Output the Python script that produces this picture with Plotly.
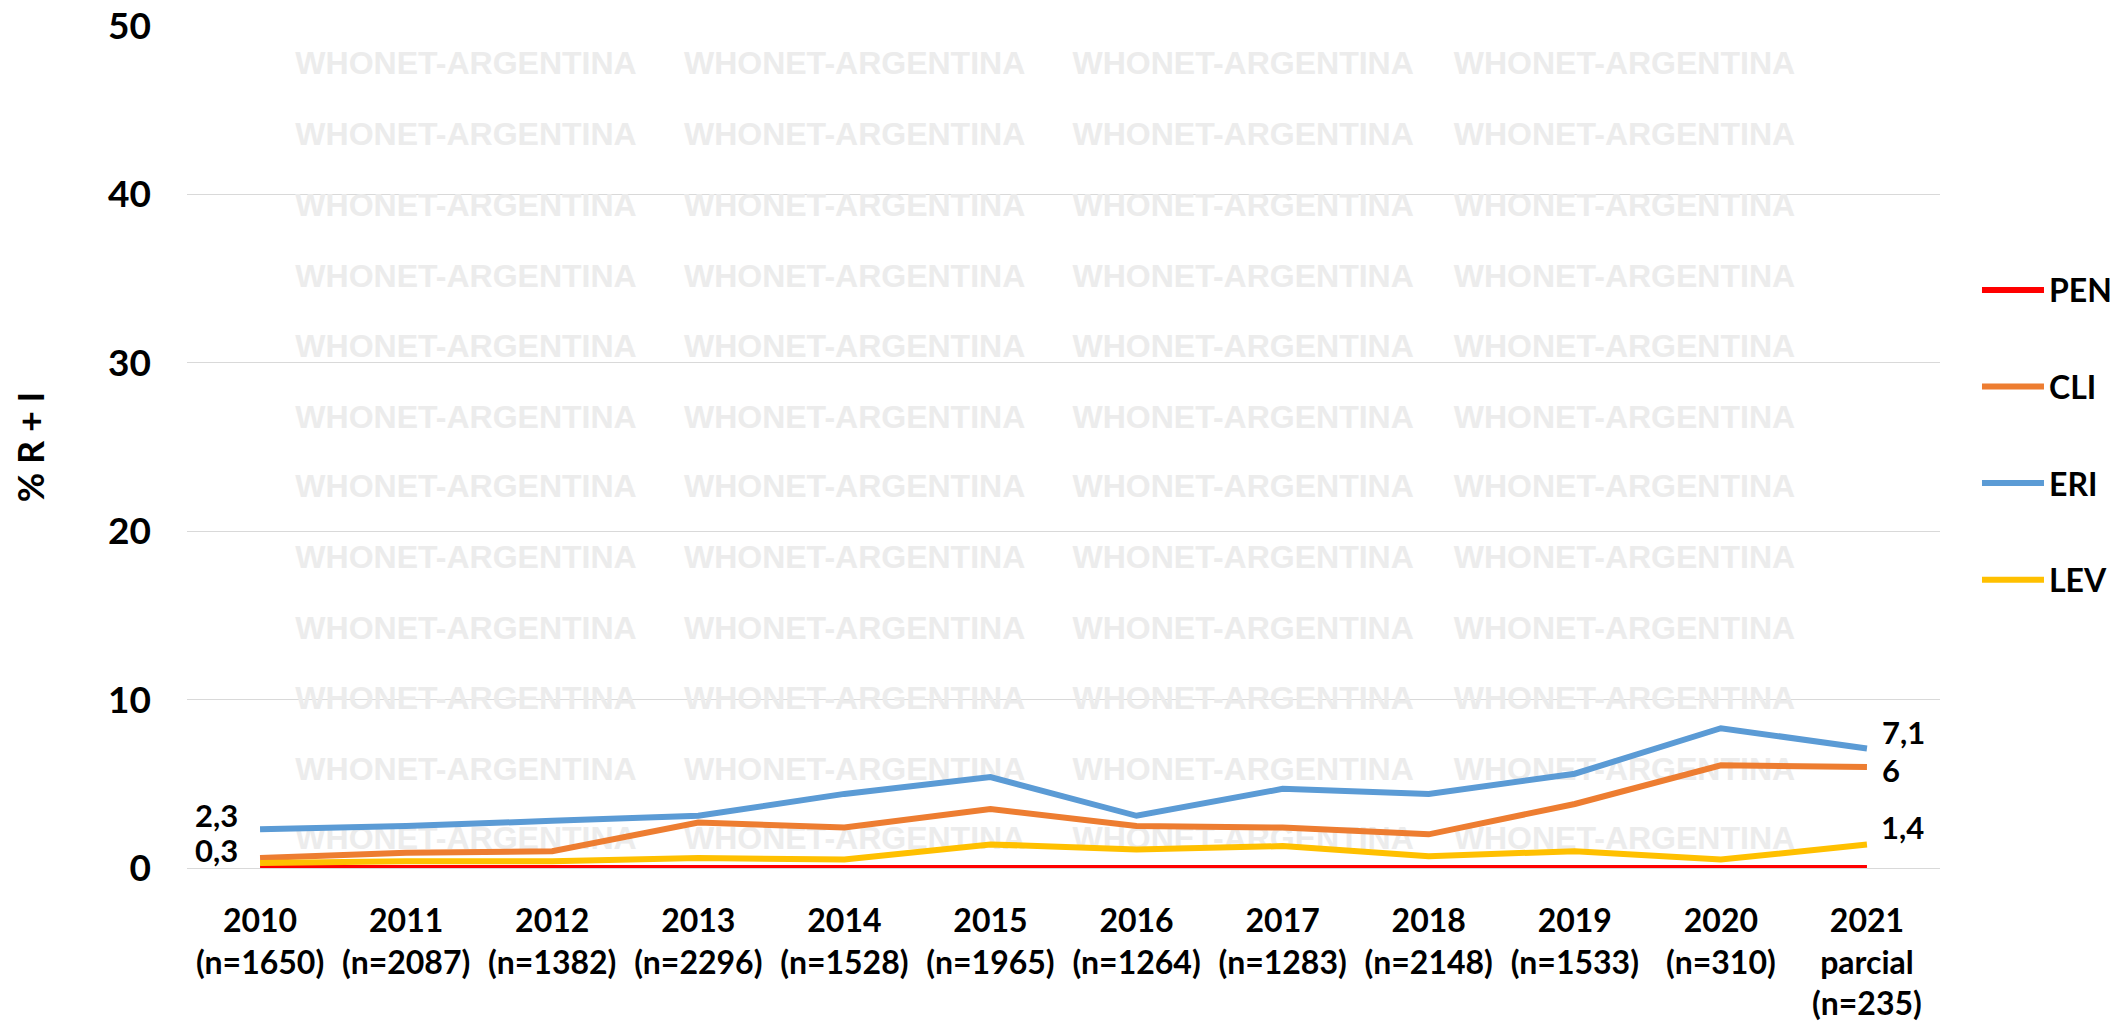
import plotly.graph_objects as go

# ---------------- data ----------------
years = ["2010", "2011", "2012", "2013", "2014", "2015", "2016", "2017", "2018", "2019", "2020", "2021"]
year_notes = ["", "", "", "", "", "", "", "", "", "", "", "parcial"]
n_counts = [1650, 2087, 1382, 2296, 1528, 1965, 1264, 1283, 2148, 1533, 310, 235]

series_names = ["PEN", "CLI", "ERI", "LEV"]
pen = [0, 0, 0, 0, 0, 0, 0, 0, 0, 0, 0, 0]
cli = [0.6, 0.9, 1.0, 2.7, 2.4, 3.5, 2.5, 2.4, 2.0, 3.8, 6.1, 6.0]
eri = [2.3, 2.5, 2.8, 3.1, 4.4, 5.4, 3.1, 4.7, 4.4, 5.6, 8.3, 7.1]
lev = [0.3, 0.4, 0.4, 0.6, 0.5, 1.4, 1.1, 1.3, 0.7, 1.0, 0.5, 1.4]

y_ticks = [0, 10, 20, 30, 40, 50]
y_title = "% R + I"
watermark = "WHONET-ARGENTINA"

# which points carry a data label (series -> indices)
labeled = {"ERI": [0, 11], "CLI": [11], "LEV": [0, 11]}

# ---------------- styles ----------------
colors = {"PEN": "#FF0000", "CLI": "#ED7D31", "ERI": "#5B9BD5", "LEV": "#FFC000"}
values = {"PEN": pen, "CLI": cli, "ERI": eri, "LEV": lev}
FONT = "Lato, 'Open Sans', Arial, sans-serif"

tick_text = []
for y, note, n in zip(years, year_notes, n_counts):
    parts = [y] + ([note] if note else []) + [f"(n={n})"]
    tick_text.append("<br>".join(parts))
x_idx = list(range(len(years)))

fig = go.Figure()

# watermark grid (drawn first so the lines sit on top)
wm_cols = [1.41, 4.07, 6.73, 9.34]
wm_rows = [47.6, 43.4, 39.2, 35.0, 30.8, 26.6, 22.5, 18.3, 14.1, 9.9, 5.7, 1.6]
wx, wy = [], []
for r in wm_rows:
    for c in wm_cols:
        wx.append(c)
        wy.append(r)
fig.add_trace(go.Scatter(
    x=wx, y=wy, mode="text", text=[watermark] * len(wx),
    textfont=dict(family="'Liberation Sans', Arial, sans-serif", size=32, color="#ececec", weight="bold"),
    hoverinfo="skip", showlegend=False, cliponaxis=False,
))

for name in series_names:
    fig.add_trace(go.Scatter(
        x=x_idx, y=values[name], mode="lines", name=name, legendgroup=name,
        line=dict(color=colors[name], width=6),
    ))

# data labels
label_offsets = {
    ("ERI", 0): (-20, 14, "right"), ("LEV", 0): (-20, 13, "right"),
    ("ERI", 11): (13, 16, "left"), ("CLI", 11): (13, -3, "left"), ("LEV", 11): (12, 17, "left"),
}
for name, idxs in labeled.items():
    for i in idxs:
        v = values[name][i]
        txt = (f"{v:g}").replace(".", ",")
        dx, dy, anc = label_offsets[(name, i)]
        fig.add_annotation(
            x=x_idx[i], y=v, text=txt, showarrow=False,
            xanchor=anc, yanchor="middle", xshift=dx, yshift=dy,
            font=dict(family=FONT, size=31, color="#000000", weight="bold"),
        )

fig.update_layout(
    width=2126, height=1025,
    margin=dict(l=187, r=186, t=26, b=157, autoexpand=False),
    paper_bgcolor="white", plot_bgcolor="white",
    showlegend=True,
    legend=dict(
        x=1.0211, y=0.719, xanchor="left", yanchor="top",
        font=dict(family=FONT, size=32, color="#000000", weight="bold"),
        traceorder="grouped", tracegroupgap=52, itemwidth=62,
        bgcolor="rgba(0,0,0,0)",
    ),
    xaxis=dict(
        range=[-0.5, 11.5], tickvals=x_idx, ticktext=tick_text,
        showgrid=False, zeroline=False, showline=False, ticks="",
        ticklabelstandoff=31,
        tickfont=dict(family=FONT, size=32, color="#000000", weight="bold"),
    ),
    yaxis=dict(
        range=[0, 50], tickvals=y_ticks, showgrid=True, gridcolor="#d9d9d9", gridwidth=1.3,
        zeroline=True, zerolinecolor="#d9d9d9", zerolinewidth=1.3,
        showline=False, ticks="", ticklabelstandoff=35,
        tickfont=dict(family=FONT, size=37, color="#000000", weight="bold"),
        title=dict(text=y_title, standoff=52,
                   font=dict(family=FONT, size=36, color="#000000", weight="bold")),
    ),
)

fig.write_html("out.html", config={"displayModeBar": False},
               post_script="document.body.style.margin='0';")
